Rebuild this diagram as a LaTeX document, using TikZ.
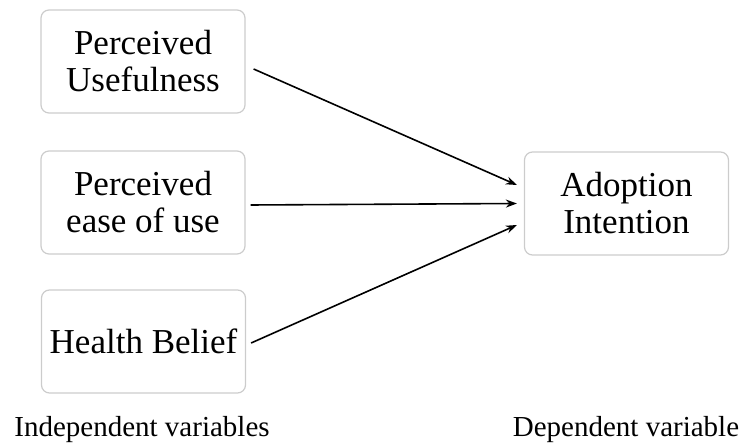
\documentclass[tikz,border=0pt]{standalone}
\usepackage{fontspec}
\setmainfont{Liberation Serif}
\usepackage{tikz}
\usetikzlibrary{arrows.meta, positioning}
\tikzset{
  varbox/.style = {rectangle, rounded corners=8pt, draw=gray!40,
                   line width=1.2pt, minimum width=204pt,
                   minimum height=103pt, align=center,
                   font=\fontsize{35}{37}\selectfont},
  link/.style   = {-{Stealth[length=11pt,width=8pt]}, line width=1.6pt},
  grouplbl/.style = {anchor=base, font=\fontsize{29}{37}\selectfont},
}

\begin{document}
\begin{tikzpicture}[x=1pt, y=1pt]
  \useasboundingbox (0,0) rectangle (744,444);

  % independent variables
  \node[varbox] (pu) at (143,382.5) {Perceived\\Usefulness};
  \node[varbox] (peou) at (143,241.5) {Perceived\\ease of use};
  \node[varbox] (hb) at (143.5,102.5) {Health Belief};

  % dependent variable
  \node[varbox] (ai) at (626.5,240.5) {Adoption\\Intention};

  % paths
  \draw[link] ([xshift=8pt,yshift=-7.5pt]pu.east) -- ([xshift=-7pt,yshift=18.5pt]ai.west);
  \draw[link] ([xshift=5pt,yshift=-2.5pt]peou.east) -- ([xshift=-7pt,yshift=0pt]ai.west);
  \draw[link] ([xshift=5pt,yshift=-1.5pt]hb.east) -- ([xshift=-7pt,yshift=-21.5pt]ai.west);

  % group labels
  \node[grouplbl] (indep) at (142,7) {Independent variables};
  \node[grouplbl] (dep) at (626,7) {Dependent variable};
\end{tikzpicture}
\end{document}
